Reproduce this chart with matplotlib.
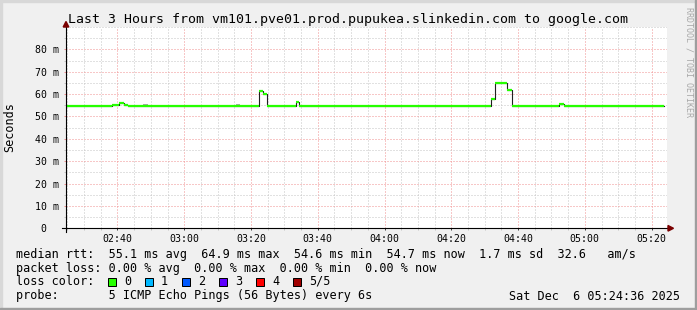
import matplotlib
matplotlib.use('Agg')
import matplotlib.pyplot as plt
from matplotlib.patches import Rectangle, Polygon
from matplotlib.ticker import FixedLocator, MultipleLocator, NullFormatter, FixedFormatter

W, H = 697, 310
MONO = 'DejaVu Sans Mono'

# median rtt as steps: edges in minutes after midnight, value in ms
step_times = [144.6, 158.3, 160.5, 161.9, 163.1, 202.5, 203.7, 204.9, 213.4, 214.5,
              271.9, 273.2, 276.8, 278.1, 292.3, 293.7, 323.7]
median_ms = [54.7, 55.1, 55.9, 55.1, 54.7, 61.3, 60.1, 54.7, 56.5, 54.7,
             57.7, 64.9, 61.7, 54.7, 55.6, 54.7]

# little bits of smoke showing above the median
smoke_start = [167.8, 195.5]
smoke_end = [169.2, 196.7]
smoke_low = [54.7, 54.7]
smoke_high = [55.4, 55.4]

x_tick_labels = ['02:40', '03:00', '03:20', '03:40', '04:00', '04:20', '04:40', '05:00', '05:20']
y_tick_values = [0, 10, 20, 30, 40, 50, 60, 70, 80]
y_tick_labels = ['0  ', '10 m', '20 m', '30 m', '40 m', '50 m', '60 m', '70 m', '80 m']

loss_labels = ['0', '1', '2', '3', '4', '5/5']
loss_colors = ['#26ff00', '#00b8ff', '#0059ff', '#5e00ff', '#ff0000', '#a00000']

title = 'Last 3 Hours from vm101.pve01.prod.pupukea.slinkedin.com to google.com'
legend_rows = [
    'median rtt:  55.1 ms avg  64.9 ms max  54.6 ms min  54.7 ms now  1.7 ms sd  32.6   am/s',
    'packet loss: 0.00 % avg  0.00 % max  0.00 % min  0.00 % now',
]
probe_text = 'probe:       5 ICMP Echo Pings (56 Bytes) every 6s'
stamp = 'Sat Dec  6 05:24:36 2025'

t_start, t_end = 144.6, 324.6
y_max = 90


def fx(x):
    return x / W


def fy(y):
    return 1 - y / H


def to_min(label):
    h, m = label.split(':')
    return int(h) * 60 + int(m)


fig = plt.figure(figsize=(W / 100, H / 100), dpi=100, facecolor='#f0f0f0')

# 3d shade border like rrdtool
fig.patches.append(Rectangle((0, fy(2)), 1, 2 / H, transform=fig.transFigure, color='#d8d8d8', zorder=0))
fig.patches.append(Rectangle((0, 0), 2 / W, 1, transform=fig.transFigure, color='#d8d8d8', zorder=0))
fig.patches.append(Rectangle((0, 0), 1, 2 / H, transform=fig.transFigure, color='#9e9e9e', zorder=0))
fig.patches.append(Rectangle((fx(695), 0), 2 / W, 1, transform=fig.transFigure, color='#9e9e9e', zorder=0))

ax = fig.add_axes([fx(66), fy(228.3), 601 / W, 201.3 / H])
ax.set_facecolor('white')
ax.set_xlim(t_start, t_end)
ax.set_ylim(0, y_max)
for s in ax.spines.values():
    s.set_visible(False)

ax.xaxis.set_major_locator(FixedLocator([to_min(l) for l in x_tick_labels]))
ax.xaxis.set_major_formatter(FixedFormatter(x_tick_labels))
ax.xaxis.set_minor_locator(MultipleLocator(5))
ax.xaxis.set_minor_formatter(NullFormatter())
ax.yaxis.set_major_locator(FixedLocator(y_tick_values))
ax.yaxis.set_major_formatter(FixedFormatter(y_tick_labels))
ax.yaxis.set_minor_locator(MultipleLocator(5))
ax.yaxis.set_minor_formatter(NullFormatter())

ax.set_axisbelow(True)
ax.grid(which='minor', color='#c4c4c4', linestyle=(0, (1, 2)), linewidth=0.72)
ax.grid(which='major', color='#f09090', linestyle=(0, (1, 2)), linewidth=0.72)

ax.tick_params(which='both', length=1.5, width=0.72)
ax.tick_params(axis='y', which='major', color='#f09090', pad=3.4, labelsize=7.1, labelfontfamily=MONO)
ax.tick_params(axis='y', which='minor', color='#c4c4c4')
ax.tick_params(axis='x', which='major', color='#404040', pad=2.6, labelsize=7.1, labelfontfamily=MONO)
ax.tick_params(axis='x', which='minor', color='#c4c4c4')

# smoke
for a, b, lo, hi in zip(smoke_start, smoke_end, smoke_low, smoke_high):
    ax.fill_between([a, b], [lo, lo], [hi, hi], color='#a8a8a8', linewidth=0, zorder=2)

# median: dark step line with loss-coloured flats on top
ax.step(step_times, median_ms + [median_ms[-1]], where='post', color='#202020', linewidth=0.8, zorder=3)
ax.hlines(median_ms, step_times[:-1], step_times[1:], colors=loss_colors[0], linewidth=1.6,
          capstyle='butt', zorder=4)

# axes lines and arrows (pixel positions)
axis_kw = dict(transform=fig.transFigure, color='black', linewidth=0.8)
fig.lines.append(plt.Line2D([fx(62), fx(670)], [fy(228.3), fy(228.3)], **axis_kw))
fig.lines.append(plt.Line2D([fx(66), fx(66)], [fy(232), fy(24)], **axis_kw))
fig.patches.append(Polygon([(fx(668), fy(225.5)), (fx(668), fy(231.1)), (fx(673.5), fy(228.3))],
                           closed=True, transform=fig.transFigure, color='#7a0000', zorder=5))
fig.patches.append(Polygon([(fx(63.2), fy(27)), (fx(68.8), fy(27)), (fx(66), fy(21.5))],
                           closed=True, transform=fig.transFigure, color='#7a0000', zorder=5))

# texts
fig.text(fx(347.7), fy(19), title, ha='center', va='center', fontsize=9.55, family=MONO)
fig.text(fx(10), fy(127.3), 'Seconds', ha='center', va='center', rotation=90, fontsize=8.5, family=MONO)
fig.text(fx(688.5), fy(62), 'RRDTOOL / TOBI OETIKER', ha='center', va='center', rotation=-90,
         fontsize=6, family=MONO, color='#a8a8a8')

row_y = [254.3, 268.3, 281.5, 296]
for y, row in zip(row_y[:2], legend_rows):
    fig.text(fx(16), fy(y), row, ha='left', va='center', fontsize=8.5, family=MONO)

fig.text(fx(16), fy(row_y[2]), 'loss color:', ha='left', va='center', fontsize=8.5, family=MONO)
for i, (lab, col) in enumerate(zip(loss_labels, loss_colors)):
    bx = 108.3 + 37 * i
    fig.patches.append(Rectangle((fx(bx), fy(285.5)), 8 / W, 8 / H, transform=fig.transFigure,
                                 facecolor=col, edgecolor='black', linewidth=0.72))
    fig.text(fx(bx + 15.7), fy(row_y[2]), lab, ha='left', va='center', fontsize=8.5, family=MONO)

fig.text(fx(16), fy(row_y[3]), probe_text, ha='left', va='center', fontsize=8.5, family=MONO)
fig.text(fx(680), fy(row_y[3]), stamp, ha='right', va='center', fontsize=8.5, family=MONO)

fig.savefig('out.png', dpi=100, facecolor=fig.get_facecolor())
